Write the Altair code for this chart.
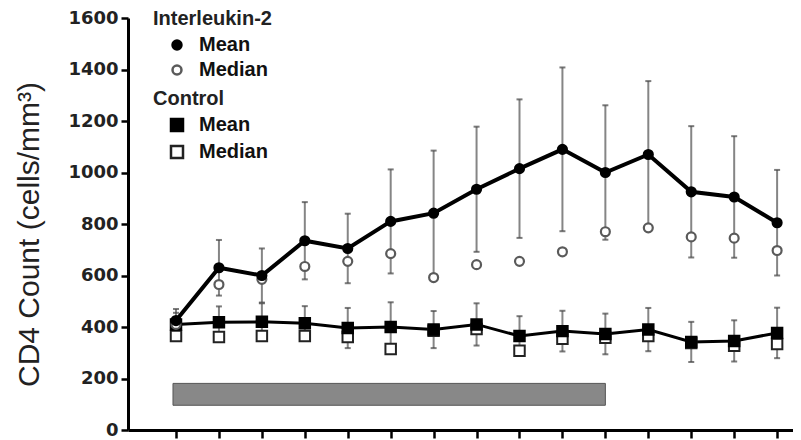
import altair as alt
import pandas as pd

# ---- data ----
visits = list(range(15))
il2_mean = [425, 630, 600, 735, 705, 810, 842, 935, 1015, 1090, 1000, 1070, 925, 905, 805]
il2_se = [45, 108, 105, 150, 135, 202, 243, 243, 269, 318, 261, 285, 255, 236, 205]
il2_median = [410, 565, 585, 635, 655, 685, 592, 642, 655, 692, 770, 785, 750, 745, 697]
ctl_mean = [410, 418, 420, 415, 396, 400, 390, 410, 365, 384, 373, 390, 342, 346, 377]
ctl_se = [45, 62, 72, 66, 78, 96, 72, 82, 77, 79, 79, 84, 78, 80, 98]
ctl_median = [365, 361, 365, 365, 361, 315, 385, 392, 308, 354, 358, 365, 338, 327, 334]
y_ticks = [0, 200, 400, 600, 800, 1000, 1200, 1400, 1600]
treatment_start, treatment_end = -0.07, 10.0
treatment_low, treatment_high = 96, 181

il2 = pd.DataFrame({
    "x": visits, "mean": il2_mean,
    "lo": [m - s for m, s in zip(il2_mean, il2_se)],
    "hi": [m + s for m, s in zip(il2_mean, il2_se)],
})
ctl = pd.DataFrame({
    "x": visits, "mean": ctl_mean,
    "lo": [m - s for m, s in zip(ctl_mean, ctl_se)],
    "hi": [m + s for m, s in zip(ctl_mean, ctl_se)],
})
il2_pts = pd.DataFrame({
    "x": visits + visits,
    "stat": ["Median"] * 15 + ["Mean"] * 15,
    "v": il2_median + il2_mean,
})
ctl_pts = pd.DataFrame({
    "x": visits + visits,
    "stat": ["Median"] * 15 + ["Mean"] * 15,
    "v": ctl_median + ctl_mean,
})
bar = pd.DataFrame({"x1": [treatment_start], "x2": [treatment_end],
                    "y1": [treatment_low], "y2": [treatment_high]})

xscale = alt.Scale(domain=[-1.118, 14.37], nice=False, zero=False)
yscale = alt.Scale(domain=[0, 1600], nice=False)
xaxis = alt.Axis(values=visits, labels=False, title=None, tickSize=8, tickWidth=2.5,
                 domainWidth=3, domainColor="#000", tickColor="#000", grid=False)
yaxis = alt.Axis(values=y_ticks, format="d", title="CD4 Count (cells/mm³)", tickSize=7,
                 tickWidth=2.5, domainWidth=3, domainColor="#000", tickColor="#000",
                 grid=False,
                 labelFont="DejaVu Sans", labelFontSize=18, labelFontWeight="bold",
                 labelColor="#222", labelPadding=3,
                 titleFont="Liberation Sans", titleFontSize=30, titleFontWeight="normal",
                 titleColor="#222", titleX=-84, titleY=216, titleBaseline="bottom")


def X(field="x"):
    return alt.X(f"{field}:Q", scale=xscale, axis=xaxis)


def Y(field):
    return alt.Y(f"{field}:Q", scale=yscale, axis=yaxis)


band = alt.Chart(bar).mark_rect(fill="#888888", stroke="#555", strokeWidth=1).encode(
    x=X("x1"), x2="x2", y=Y("y1"), y2="y2")


def errors(df):
    rules = alt.Chart(df).mark_rule(color="#858585", strokeWidth=2).encode(
        x=X(), y=Y("lo"), y2="hi")
    cap_hi = alt.Chart(df).mark_tick(orient="horizontal", color="#444", size=6,
                                     thickness=2).encode(x=X(), y=Y("hi"))
    cap_lo = alt.Chart(df).mark_tick(orient="horizontal", color="#444", size=6,
                                     thickness=2).encode(x=X(), y=Y("lo"))
    return [rules, cap_hi, cap_lo]


il2_line = alt.Chart(il2).mark_line(color="#000", strokeWidth=4).encode(x=X(), y=Y("mean"))
ctl_line = alt.Chart(ctl).mark_line(color="#000", strokeWidth=3).encode(x=X(), y=Y("mean"))

stat_domain = ["Mean", "Median"]


def legend(title, y, size):
    return alt.Legend(
        title=title, orient="none", legendX=25, legendY=y, padding=0, offset=0,
        titleFont="Liberation Sans", titleFontSize=20, titleFontWeight="bold",
        titleColor="#222", titlePadding=6,
        labelFont="Liberation Sans", labelFontSize=20, labelFontWeight="bold",
        labelColor="#111", labelOffset=12, symbolOffset=14, rowPadding=5,
        symbolSize=size, symbolStrokeWidth=2.5)


il2_leg = legend("Interleukin-2", -9, 80)
il2_points = alt.Chart(il2_pts).mark_point(size=80, strokeWidth=2.2, opacity=1).encode(
    x=X(), y=Y("v"),
    shape=alt.Shape("stat:N", scale=alt.Scale(domain=stat_domain, range=["circle", "circle"]),
                    legend=il2_leg),
    fill=alt.Fill("stat:N", scale=alt.Scale(domain=stat_domain, range=["#000", "#fff"]),
                  legend=il2_leg),
    stroke=alt.Stroke("stat:N", scale=alt.Scale(domain=stat_domain, range=["#000", "#5a5a5a"]),
                      legend=il2_leg),
)

ctl_leg = legend("Control", 71, 144)
ctl_points = alt.Chart(ctl_pts).mark_point(size=110, strokeWidth=2, opacity=1).encode(
    x=X(), y=Y("v"),
    shape=alt.Shape("stat:N", scale=alt.Scale(domain=stat_domain, range=["square", "square"]),
                    legend=ctl_leg),
    fill=alt.Fill("stat:N", scale=alt.Scale(domain=stat_domain, range=["#000", "#fff"]),
                  legend=ctl_leg),
    stroke=alt.Stroke("stat:N", scale=alt.Scale(domain=stat_domain, range=["#000", "#222"]),
                      legend=ctl_leg),
)

chart = alt.layer(
    band, *errors(il2), *errors(ctl), il2_line, ctl_line, ctl_points, il2_points
).resolve_scale(
    shape="independent", fill="independent", stroke="independent"
).properties(
    width=665, height=412,
    autosize=alt.AutoSizeParams(type="none"),
    padding={"left": 120, "top": 10, "right": 0, "bottom": 10},
    background="white",
).configure_view(stroke=None)

chart.save("out.html", embed_options={"renderer": "svg", "actions": False})
